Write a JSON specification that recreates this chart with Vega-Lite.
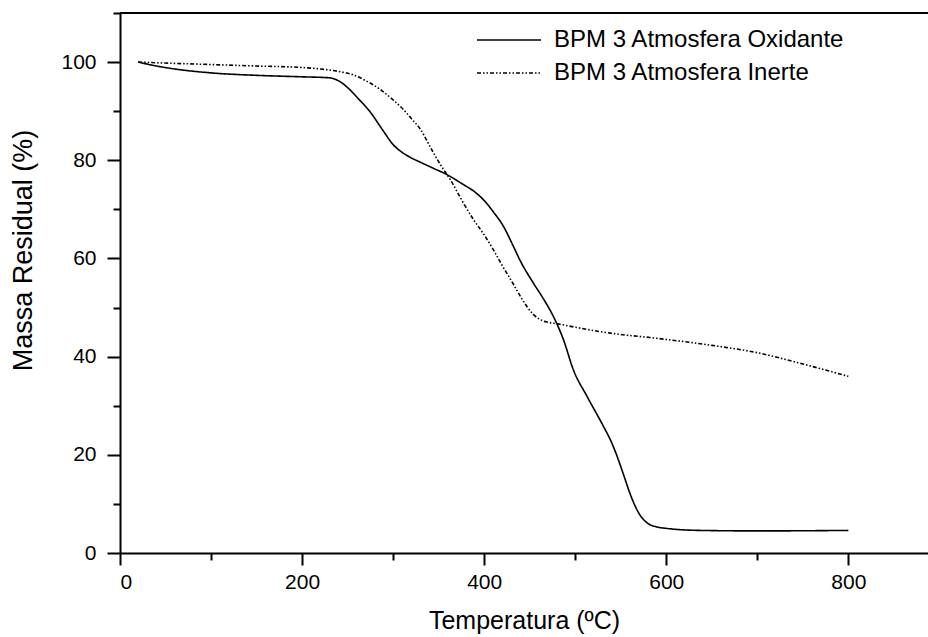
{
  "$schema": "https://vega.github.io/schema/vega-lite/v6.json",
  "width": 808,
  "height": 540,
  "autosize": "none",
  "padding": {"left": 120, "top": 13, "right": 0, "bottom": 84},
  "background": "white",
  "config": {
    "view": {"stroke": null},
    "font": "Liberation Sans",
    "axis": {
      "domainColor": "black",
      "domainWidth": 2,
      "tickColor": "black",
      "tickWidth": 2,
      "grid": false,
      "labelColor": "black",
      "labelFont": "Liberation Sans",
      "labelFontSize": 21,
      "titleColor": "black",
      "titleFont": "Liberation Sans",
      "titleFontWeight": "normal"
    }
  },
  "datasets": {
    "tga": [
      {"serie": "BPM 3 Atmosfera Oxidante", "temp": 20, "massa": 100},
      {"serie": "BPM 3 Atmosfera Oxidante", "temp": 40, "massa": 99.2},
      {"serie": "BPM 3 Atmosfera Oxidante", "temp": 60, "massa": 98.6},
      {"serie": "BPM 3 Atmosfera Oxidante", "temp": 100, "massa": 97.8},
      {"serie": "BPM 3 Atmosfera Oxidante", "temp": 150, "massa": 97.3},
      {"serie": "BPM 3 Atmosfera Oxidante", "temp": 200, "massa": 97.0},
      {"serie": "BPM 3 Atmosfera Oxidante", "temp": 230, "massa": 96.8},
      {"serie": "BPM 3 Atmosfera Oxidante", "temp": 240, "massa": 96.2},
      {"serie": "BPM 3 Atmosfera Oxidante", "temp": 250, "massa": 94.8},
      {"serie": "BPM 3 Atmosfera Oxidante", "temp": 262, "massa": 92.5},
      {"serie": "BPM 3 Atmosfera Oxidante", "temp": 275, "massa": 89.8},
      {"serie": "BPM 3 Atmosfera Oxidante", "temp": 288, "massa": 86.3},
      {"serie": "BPM 3 Atmosfera Oxidante", "temp": 300, "massa": 83.2},
      {"serie": "BPM 3 Atmosfera Oxidante", "temp": 315, "massa": 81.0},
      {"serie": "BPM 3 Atmosfera Oxidante", "temp": 330, "massa": 79.6},
      {"serie": "BPM 3 Atmosfera Oxidante", "temp": 345, "massa": 78.3},
      {"serie": "BPM 3 Atmosfera Oxidante", "temp": 359, "massa": 77.1},
      {"serie": "BPM 3 Atmosfera Oxidante", "temp": 375, "massa": 75.3},
      {"serie": "BPM 3 Atmosfera Oxidante", "temp": 390, "massa": 73.5},
      {"serie": "BPM 3 Atmosfera Oxidante", "temp": 400, "massa": 71.8},
      {"serie": "BPM 3 Atmosfera Oxidante", "temp": 410, "massa": 69.5},
      {"serie": "BPM 3 Atmosfera Oxidante", "temp": 421, "massa": 66.6},
      {"serie": "BPM 3 Atmosfera Oxidante", "temp": 432, "massa": 62.5},
      {"serie": "BPM 3 Atmosfera Oxidante", "temp": 440, "massa": 59.4},
      {"serie": "BPM 3 Atmosfera Oxidante", "temp": 454, "massa": 55.0},
      {"serie": "BPM 3 Atmosfera Oxidante", "temp": 466, "massa": 51.5},
      {"serie": "BPM 3 Atmosfera Oxidante", "temp": 476, "massa": 48.2},
      {"serie": "BPM 3 Atmosfera Oxidante", "temp": 487, "massa": 43.5},
      {"serie": "BPM 3 Atmosfera Oxidante", "temp": 498, "massa": 37.3},
      {"serie": "BPM 3 Atmosfera Oxidante", "temp": 513, "massa": 31.9},
      {"serie": "BPM 3 Atmosfera Oxidante", "temp": 531, "massa": 25.8},
      {"serie": "BPM 3 Atmosfera Oxidante", "temp": 540, "massa": 22.5},
      {"serie": "BPM 3 Atmosfera Oxidante", "temp": 546, "massa": 19.7},
      {"serie": "BPM 3 Atmosfera Oxidante", "temp": 553, "massa": 16.0},
      {"serie": "BPM 3 Atmosfera Oxidante", "temp": 560, "massa": 12.2},
      {"serie": "BPM 3 Atmosfera Oxidante", "temp": 566, "massa": 9.5},
      {"serie": "BPM 3 Atmosfera Oxidante", "temp": 572, "massa": 7.5},
      {"serie": "BPM 3 Atmosfera Oxidante", "temp": 580, "massa": 6.0},
      {"serie": "BPM 3 Atmosfera Oxidante", "temp": 590, "massa": 5.3},
      {"serie": "BPM 3 Atmosfera Oxidante", "temp": 601, "massa": 5.0},
      {"serie": "BPM 3 Atmosfera Oxidante", "temp": 620, "massa": 4.7},
      {"serie": "BPM 3 Atmosfera Oxidante", "temp": 637, "massa": 4.6},
      {"serie": "BPM 3 Atmosfera Oxidante", "temp": 700, "massa": 4.5},
      {"serie": "BPM 3 Atmosfera Oxidante", "temp": 800, "massa": 4.6},
      {"serie": "BPM 3 Atmosfera Inerte", "temp": 20, "massa": 100},
      {"serie": "BPM 3 Atmosfera Inerte", "temp": 50, "massa": 99.8},
      {"serie": "BPM 3 Atmosfera Inerte", "temp": 100, "massa": 99.5},
      {"serie": "BPM 3 Atmosfera Inerte", "temp": 150, "massa": 99.2},
      {"serie": "BPM 3 Atmosfera Inerte", "temp": 200, "massa": 98.9},
      {"serie": "BPM 3 Atmosfera Inerte", "temp": 220, "massa": 98.6},
      {"serie": "BPM 3 Atmosfera Inerte", "temp": 240, "massa": 98.1},
      {"serie": "BPM 3 Atmosfera Inerte", "temp": 256, "massa": 97.4},
      {"serie": "BPM 3 Atmosfera Inerte", "temp": 270, "massa": 96.2},
      {"serie": "BPM 3 Atmosfera Inerte", "temp": 286, "massa": 94.4},
      {"serie": "BPM 3 Atmosfera Inerte", "temp": 300, "massa": 92.3},
      {"serie": "BPM 3 Atmosfera Inerte", "temp": 311, "massa": 90.4},
      {"serie": "BPM 3 Atmosfera Inerte", "temp": 320, "massa": 88.5},
      {"serie": "BPM 3 Atmosfera Inerte", "temp": 330, "massa": 86.3},
      {"serie": "BPM 3 Atmosfera Inerte", "temp": 344, "massa": 81.6},
      {"serie": "BPM 3 Atmosfera Inerte", "temp": 353, "massa": 78.8},
      {"serie": "BPM 3 Atmosfera Inerte", "temp": 363, "massa": 76.0},
      {"serie": "BPM 3 Atmosfera Inerte", "temp": 375, "massa": 72.0},
      {"serie": "BPM 3 Atmosfera Inerte", "temp": 388, "massa": 68.0},
      {"serie": "BPM 3 Atmosfera Inerte", "temp": 400, "massa": 64.8},
      {"serie": "BPM 3 Atmosfera Inerte", "temp": 410, "massa": 61.8},
      {"serie": "BPM 3 Atmosfera Inerte", "temp": 420, "massa": 58.5},
      {"serie": "BPM 3 Atmosfera Inerte", "temp": 432, "massa": 54.8},
      {"serie": "BPM 3 Atmosfera Inerte", "temp": 440, "massa": 52.2},
      {"serie": "BPM 3 Atmosfera Inerte", "temp": 447, "massa": 50.2},
      {"serie": "BPM 3 Atmosfera Inerte", "temp": 454, "massa": 48.6},
      {"serie": "BPM 3 Atmosfera Inerte", "temp": 461, "massa": 47.6},
      {"serie": "BPM 3 Atmosfera Inerte", "temp": 470, "massa": 47.0},
      {"serie": "BPM 3 Atmosfera Inerte", "temp": 480, "massa": 46.7},
      {"serie": "BPM 3 Atmosfera Inerte", "temp": 500, "massa": 46.0},
      {"serie": "BPM 3 Atmosfera Inerte", "temp": 527, "massa": 45.1},
      {"serie": "BPM 3 Atmosfera Inerte", "temp": 555, "massa": 44.4},
      {"serie": "BPM 3 Atmosfera Inerte", "temp": 582, "massa": 43.9},
      {"serie": "BPM 3 Atmosfera Inerte", "temp": 600, "massa": 43.5},
      {"serie": "BPM 3 Atmosfera Inerte", "temp": 650, "massa": 42.3},
      {"serie": "BPM 3 Atmosfera Inerte", "temp": 700, "massa": 40.8},
      {"serie": "BPM 3 Atmosfera Inerte", "temp": 750, "massa": 38.5},
      {"serie": "BPM 3 Atmosfera Inerte", "temp": 800, "massa": 36.0}
    ]
  },
  "data": {"name": "tga"},
  "resolve": {"axis": {"x": "independent", "y": "independent"}},
  "layer": [
    {
      "mark": {"type": "line", "interpolate": "monotone", "color": "black", "strokeWidth": 1.6},
      "encoding": {
        "x": {
          "field": "temp", "type": "quantitative",
          "scale": {"domain": [0, 887.5], "nice": false, "zero": false},
          "axis": {
            "orient": "bottom",
            "values": [0, 200, 400, 600, 800],
            "tickSize": 12,
            "labelPadding": 6,
            "title": "Temperatura (ºC)",
            "titleFontSize": 25,
            "titleY": 55,
            "titleBaseline": "top"
          }
        },
        "y": {
          "field": "massa", "type": "quantitative",
          "scale": {"domain": [0, 110], "nice": false, "zero": false},
          "axis": {
            "orient": "left",
            "values": [0, 20, 40, 60, 80, 100],
            "tickSize": 13,
            "labelPadding": 11,
            "title": "Massa Residual (%)",
            "titleFontSize": 27,
            "titleX": -83,
            "titleY": 237,
            "titleAngle": -90,
            "titleAlign": "center",
            "titleBaseline": "bottom"
          }
        },
        "strokeDash": {
          "field": "serie", "type": "nominal",
          "scale": {
            "domain": ["BPM 3 Atmosfera Oxidante", "BPM 3 Atmosfera Inerte"],
            "range": [[1, 0], [4, 2, 1.5, 2, 1.5, 2]]
          },
          "legend": {
            "title": null,
            "orient": "none",
            "legendX": 377,
            "legendY": 15,
            "padding": 0,
            "symbolType": "M-8,0H8",
            "symbolSize": 64,
            "symbolStrokeWidth": 1.6,
            "symbolStrokeColor": "black",
            "labelFontSize": 24,
            "labelFont": "Liberation Sans",
            "labelColor": "black",
            "labelLimit": 0,
            "labelOffset": 33,
            "rowPadding": 9
          }
        }
      }
    },
    {
      "mark": {"type": "point", "opacity": 0},
      "encoding": {
        "x": {
          "field": "temp", "type": "quantitative",
          "axis": {
            "orient": "bottom",
            "values": [100, 300, 500, 700],
            "tickSize": 7,
            "labels": false,
            "domain": false,
            "title": null
          }
        },
        "y": {
          "field": "massa", "type": "quantitative",
          "axis": {
            "orient": "left",
            "values": [10, 30, 50, 70, 90, 110],
            "tickSize": 7,
            "labels": false,
            "domain": false,
            "title": null
          }
        }
      }
    },
    {
      "mark": {"type": "rule", "color": "black", "strokeWidth": 2},
      "encoding": {
        "y": {"datum": 110, "type": "quantitative", "axis": null}
      }
    }
  ]
}
